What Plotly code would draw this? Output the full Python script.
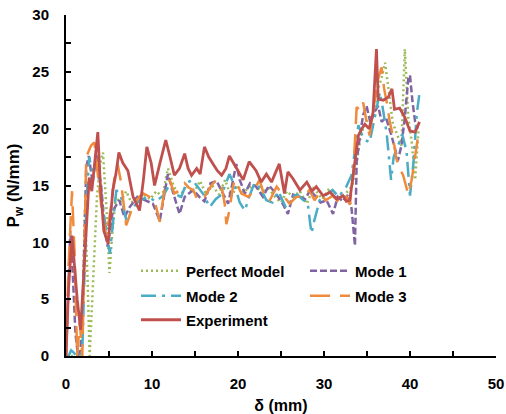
import plotly.graph_objects as go

# ---------------- data ----------------
exp_x = [0, 0.3, 0.7, 1.0, 1.3, 1.7, 2.0, 2.4, 2.7, 3.0, 3.3, 3.7, 4.0, 4.4, 4.9, 5.45, 5.8, 6.15, 6.6, 7.2, 7.8, 8.55, 9.0, 9.4, 9.9, 10.3, 10.9, 11.6, 12.1, 12.6, 13.2, 13.8, 14.2, 14.6, 15.2, 15.6, 16.1, 16.6, 17.1, 17.6, 18.1, 18.6, 19.0, 19.5, 20.0, 20.6, 21.3, 22.1, 22.7, 23.3, 23.9, 24.4, 24.8, 25.4, 25.8, 26.4, 27.2, 28.0, 28.6, 29.1, 29.9, 30.7, 31.5, 32.2, 32.6, 33.0, 33.6, 34.0, 34.4, 34.75, 35.25, 35.7, 36.1, 36.3, 36.9, 37.5, 37.9, 38.2, 38.8, 39.4, 40.0, 40.6, 41.1]
exp_y = [0, 6, 10.6, 8, 5, 2.3, 6, 12, 15.7, 14.5, 17, 19.7, 15, 11, 9.9, 14.6, 16, 17.9, 17, 16.3, 14.0, 12.8, 15.5, 18.4, 17, 15.0, 16.9, 19.0, 17.5, 15.9, 16.5, 17.8, 16.5, 15.9, 16.5, 16.0, 18.4, 17.5, 16.9, 16.3, 15.9, 16.5, 17.6, 17.0, 16.3, 15.5, 17.1, 16.3, 15.3, 16.0, 15.3, 16.2, 16.9, 14.3, 16.2, 15.6, 14.6, 15.3, 14.5, 14.9, 14.1, 14.4, 13.8, 14.1, 13.6, 13.7, 17.1, 19.4, 20.0, 20.4, 20.0, 21.4, 27.0, 22.6, 22.5, 22.8, 23.5, 21.7, 21.8, 21.0, 19.8, 19.7, 20.6]

m3_x = [0, 0.3, 0.7, 1.0, 1.3, 1.6, 1.9, 2.1, 2.35, 2.9, 3.3, 3.7, 4.2, 4.7, 5.2, 5.6, 6.0, 6.4, 7.0, 7.6, 8.0, 8.55, 9.0, 9.5, 10.3, 10.9, 11.5, 12.05, 12.6, 13.2, 13.8, 14.3, 14.8, 15.3, 16.1, 16.9, 17.5, 18.1, 18.45, 18.65, 19.0, 19.35, 19.6, 20.4, 21.2, 21.9, 22.5, 23.1, 23.7, 24.5, 25.3, 26.0, 26.8, 27.6, 28.3, 28.9, 29.5, 30.2, 31.0, 31.8, 32.6, 33.0, 33.4, 33.8, 34.2, 34.55, 34.95, 35.3, 35.7, 36.3, 36.7, 37.0, 37.3, 37.65, 38.0, 38.4, 38.8, 39.2, 39.8, 40.2, 40.6, 41.0]
m3_y = [0, 8, 14.5, 9, 0, 3, 0, 8, 17.5, 18.5, 18.8, 16, 12.5, 10.5, 13, 15.5, 16.9, 15.3, 11.5, 12.8, 13.5, 14.0, 14.3, 14.1, 13.7, 11.8, 14.9, 15.5, 14.3, 14.6, 15.2, 14.8, 14.6, 13.7, 14.0, 15.0, 15.5, 14.9, 13.4, 11.6, 12.8, 14.6, 15.5, 14.3, 14.0, 14.6, 15.5, 14.0, 13.7, 14.9, 14.1, 13.4, 14.0, 14.0, 14.6, 13.7, 14.4, 13.7, 14.1, 13.5, 14.0, 13.3, 16, 21.9, 21.6, 22.3, 20.6, 19.4, 21.5, 24.4, 25.4, 23.5, 22.3, 20.6, 19.4, 17.4, 16.5, 15.9, 14.2, 15.5, 17.6, 19.7]

m1_x = [0, 0.2, 0.5, 0.8, 1.1, 1.4, 1.7, 2.0, 2.35, 2.65, 3.1, 3.5, 4.1, 4.5, 4.85, 5.45, 6.2, 6.8, 7.4, 8.3, 9.2, 10.1, 10.9, 11.5, 11.85, 12.4, 13.2, 13.8, 14.8, 15.5, 16.1, 16.8, 17.5, 18.25, 18.85, 19.3, 19.8, 20.2, 20.8, 21.4, 22.1, 22.9, 23.6, 24.3, 25.2, 25.8, 26.4, 27.2, 27.8, 28.4, 29.0, 29.6, 30.3, 31.05, 31.6, 32.2, 32.8, 33.2, 33.6, 33.8, 34.2, 34.55, 34.95, 35.4, 35.9, 36.3, 36.7, 37.2, 37.85, 38.25, 38.6, 39.0, 39.4, 39.8, 40.0, 40.3, 40.6, 40.9]
m1_y = [0, 5, 11, 7, 2, 0, 0.5, 6, 16.6, 17.6, 15.2, 17.8, 14.9, 11.1, 9.6, 12.8, 13.7, 12.2, 13.1, 14.0, 13.7, 13.4, 11.9, 14.3, 16.0, 14.5, 12.5, 14.0, 14.6, 14.0, 13.6, 15.2, 15.4, 14.3, 13.4, 15.0, 16.9, 15.5, 14.3, 15.2, 14.9, 14.0, 15.0, 14.4, 13.4, 12.5, 14.2, 14.0, 13.8, 14.6, 14.0, 13.5, 13.7, 12.5, 14.0, 13.6, 14.2, 13.0, 9.7, 17.1, 19.5, 21.2, 22.0, 20.5, 21.5, 22.0, 20.6, 21.0, 19.4, 18.2, 17.2, 18.5, 21.0, 24.4, 24.7, 22.3, 20.6, 20.0]

m2_x = [0, 0.3, 0.6, 0.9, 1.2, 1.6, 1.9, 2.15, 2.4, 2.7, 3.1, 3.5, 4.0, 4.5, 5.1, 5.5, 5.85, 6.4, 7.0, 7.7, 8.55, 9.6, 10.4, 11.3, 12.0, 12.8, 13.4, 14.0, 14.7, 15.4, 16.0, 16.7, 17.4, 18.1, 19.0, 19.6, 20.2, 20.8, 21.3, 21.9, 22.6, 23.3, 24.0, 24.7, 25.6, 26.2, 26.9, 27.6, 28.1, 28.35, 28.55, 28.9, 29.5, 30.3, 31.0, 31.7, 32.6, 33.2, 33.6, 34.0, 34.4, 34.8, 35.3, 35.9, 36.5, 36.9, 37.3, 37.8, 38.1, 38.6, 39.1, 39.6, 40.0, 40.4, 40.8, 41.1]
m2_y = [0, 0, 0.5, 0.3, 0, 0, 0.5, 7.8, 14, 17.5, 16.0, 16.9, 14.9, 12, 9.0, 12, 14.6, 14.0, 12, 13.0, 13.7, 14.0, 13.6, 14.1, 15.0, 14.2, 14.0, 15.2, 15.5, 14.8, 14.2, 13.1, 13.8, 14.2, 16.0, 15.0, 13.5, 12.8, 14.0, 15.2, 14.8, 13.7, 13.5, 14.5, 13.0, 14.0, 14.2, 13.7, 13.5, 11.9, 10.8, 12.0, 13.7, 14.2, 14.6, 14.0, 14.9, 15.9, 18, 20.3, 19.5, 19.0, 18.8, 21, 23.2, 21.5, 19.5, 15.5, 17.5, 18.5, 19.5, 18.0, 14.1, 17.0, 21.4, 23.1]

pm_x = [0, 0.5, 1.0, 1.5, 1.8, 2.2, 2.5, 2.75, 3.2, 3.6, 4.0, 4.3, 4.7, 5.05, 5.4, 5.8, 6.3, 7.0, 7.6, 8.3, 9.0, 9.8, 10.5, 11.2, 11.85, 12.5, 13.2, 14.0, 14.8, 15.6, 16.3, 17.0, 17.8, 18.5, 19.2, 19.9, 20.6, 21.3, 22.0, 22.8, 23.5, 24.3, 25.0, 25.7, 26.4, 27.2, 28.0, 28.9, 29.1, 29.8, 30.5, 31.3, 32.0, 32.8, 33.3, 33.8, 34.3, 34.8, 35.3, 35.8, 36.3, 36.7, 37.1, 37.5, 38.0, 38.5, 39.0, 39.4, 39.8, 40.2, 40.6, 41.0]
pm_y = [0, 0, 0, 0, 0, 13, 7, 0, 8, 14, 17, 17.9, 13, 7.3, 11, 14, 13.5, 14.5, 13.5, 14.0, 14.2, 13.8, 14.5, 14.0, 16.5, 15.0, 14.0, 15.0, 14.3, 15.4, 14.2, 15.0, 14.2, 15.5, 14.0, 15.0, 14.4, 14.8, 15.0, 14.3, 14.8, 14.0, 13.5, 14.5, 14.0, 14.5, 13.4, 15.0, 14.5, 13.8, 14.6, 14.0, 13.8, 14.5, 15.0, 17, 19.5, 20.5, 21.0, 21.0, 23.5, 24.5, 25.8, 23.5, 20.5, 19.5, 18.5, 27.0, 21.0, 18.8, 15.5, 20.0]

x_ticks = [0, 10, 20, 30, 40, 50]
y_ticks = [0, 5, 10, 15, 20, 25, 30]

FONT = "Liberation Sans, Arial, sans-serif"
TFONT = "Liberation Sans, Arial, sans-serif"

fig = go.Figure()
fig.add_trace(go.Scatter(x=pm_x, y=pm_y, mode="lines", name="Perfect Model",
                         line=dict(color="#9BBB59", width=2.5, dash="2px,3px"), legend="legend"))
fig.add_trace(go.Scatter(x=m1_x, y=m1_y, mode="lines", name="Mode 1",
                         line=dict(color="#8064A2", width=2.5, dash="7px,3px"), legend="legend2"))
fig.add_trace(go.Scatter(x=m2_x, y=m2_y, mode="lines", name="Mode 2",
                         line=dict(color="#4BACC6", width=2.5, dash="15px,6px,3px,6px"), legend="legend3"))
fig.add_trace(go.Scatter(x=m3_x, y=m3_y, mode="lines", name="Mode 3",
                         line=dict(color="#F08A3C", width=2.5, dash="20px,10px"), legend="legend4"))
fig.add_trace(go.Scatter(x=exp_x, y=exp_y, mode="lines", name="Experiment",
                         line=dict(color="#C0504D", width=2.8), legend="legend5"))

leg_common = dict(orientation="v", xanchor="left", yanchor="middle",
                  font=dict(family=FONT, size=15, color="black", weight="bold"),
                  bgcolor="rgba(0,0,0,0)", itemwidth=40, tracegroupgap=0)

def py(v):  # pixel row -> paper y
    return (356 - v) / 341.0

def px(v):  # pixel column -> paper x
    return (v - 66) / 430.0

fig.update_layout(
    width=506, height=414,
    margin=dict(l=66, r=10, t=15, b=58, autoexpand=False),
    paper_bgcolor="white", plot_bgcolor="white",
    showlegend=True,
    legend=dict(x=px(136), y=py(271), **leg_common),
    legend2=dict(x=px(305), y=py(271), **leg_common),
    legend3=dict(x=px(136), y=py(296), **leg_common),
    legend4=dict(x=px(305), y=py(296), **leg_common),
    legend5=dict(x=px(136), y=py(320), **leg_common),
    xaxis=dict(range=[0, 50], tickvals=x_ticks, ticktext=["<b>%d</b>" % v for v in x_ticks],
               automargin=False,
               showline=True, linecolor="black", linewidth=2, showgrid=False, zeroline=False,
               ticks="inside", ticklen=5, tickwidth=2, tickcolor="black",
               minor=dict(dtick=5, ticks="inside", ticklen=5, tickwidth=2, tickcolor="black", showgrid=False),
               tickfont=dict(family=TFONT, size=15, color="black"),
               ticklabelstandoff=13,
               title=dict(text="<b>δ (mm)</b>", font=dict(family=TFONT, size=16, color="black"), standoff=10)),
    yaxis=dict(range=[0, 30], tickvals=y_ticks, ticktext=["<b>%d</b>" % v for v in y_ticks],
               automargin=False,
               showline=True, linecolor="black", linewidth=2, showgrid=False, zeroline=False,
               ticks="inside", ticklen=5, tickwidth=2, tickcolor="black",
               minor=dict(dtick=2.5, ticks="inside", ticklen=5, tickwidth=2, tickcolor="black", showgrid=False),
               tickfont=dict(family=TFONT, size=15, color="black"),
               ticklabelstandoff=12,
               title=dict(text="<b>P<sub>w</sub> (N/mm)</b>", font=dict(family=TFONT, size=17, color="black"), standoff=8)),
)

fig.write_html("out.html", config={"displayModeBar": False},
               post_script="document.body.style.margin='0px';")
